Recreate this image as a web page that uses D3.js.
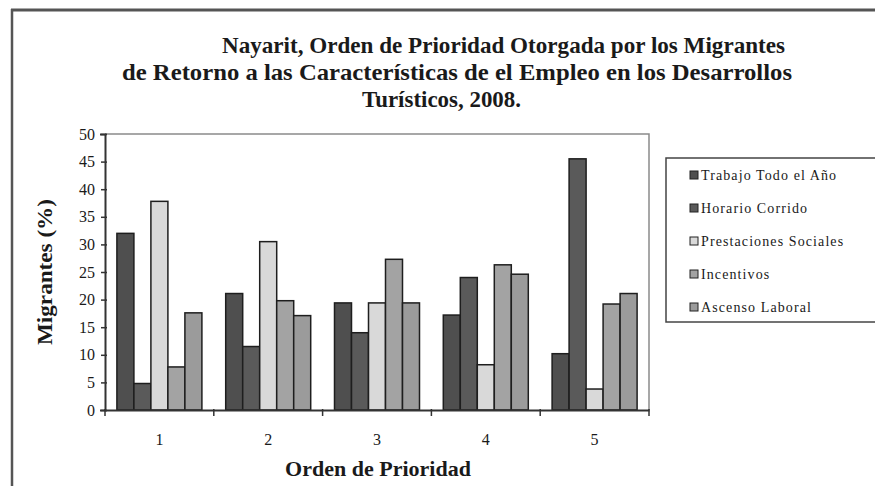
<!DOCTYPE html>
<html>
<head>
<meta charset="utf-8">
<script src="https://cdn.jsdelivr.net/npm/d3@7"></script>
<style>
  body { margin: 0; background: #fff; }
  text { font-family: "Liberation Serif", "Times New Roman", serif; fill: #1a1a1a; }
</style>
</head>
<body>
<script>
// data
var categories = ["1", "2", "3", "4", "5"];
var seriesNames = ["Trabajo Todo el Año", "Horario Corrido", "Prestaciones Sociales", "Incentivos", "Ascenso Laboral"];
var trabajo      = [32.0, 21.1, 19.4, 17.2, 10.2];
var horario      = [4.8, 11.5, 14.0, 24.0, 45.5];
var prestaciones = [37.8, 30.5, 19.4, 8.2, 3.8];
var incentivos   = [7.8, 19.8, 27.3, 26.3, 19.2];
var ascenso      = [17.6, 17.1, 19.4, 24.6, 21.1];
var yTicks = [0, 5, 10, 15, 20, 25, 30, 35, 40, 45, 50];
var titleLines = ["Nayarit, Orden de Prioridad Otorgada por los Migrantes",
                  "de Retorno a las Características de el Empleo en los Desarrollos",
                  "Turísticos, 2008."];

var allSeries = [trabajo, horario, prestaciones, incentivos, ascenso];
var colors = ["#4f4f4f", "#5a5a5a", "#d9d9d9", "#a3a3a3", "#9b9b9b"];

var width = 875, height = 486;
var svg = d3.select("body").append("svg")
    .attr("width", width)
    .attr("height", height);

// outer chart frame (cut off at the right and bottom)
svg.append("line").attr("x1", 11).attr("x2", width).attr("y1", 10).attr("y2", 10)
    .attr("stroke", "#555").attr("stroke-width", 3);
svg.append("line").attr("x1", 12).attr("x2", 12).attr("y1", 9).attr("y2", height)
    .attr("stroke", "#555").attr("stroke-width", 2.5);

// title, each line placed like the original (x, baseline, width)
var titlePos = [[222, 53, 563], [122, 80, 670], [362, 107, 159]];
titleLines.forEach(function(t, i) {
  svg.append("text")
    .attr("x", titlePos[i][0]).attr("y", titlePos[i][1])
    .attr("textLength", titlePos[i][2]).attr("lengthAdjust", "spacingAndGlyphs")
    .style("font-size", "24px").style("font-weight", "bold")
    .text(t);
});

var plot = {left: 105, right: 649, top: 134, bottom: 410};

var x = d3.scaleBand().domain(categories).range([plot.left, plot.right]);
var xInner = d3.scaleBand().domain(d3.range(seriesNames.length))
    .range([0, x.bandwidth()]).paddingOuter(0.7);
var y = d3.scaleLinear().domain([0, 50]).range([plot.bottom, plot.top]);

// plot area border top / right
svg.append("path")
    .attr("d", "M" + plot.left + "," + plot.top + "H" + plot.right + "V" + plot.bottom)
    .attr("fill", "none").attr("stroke", "#8a8a8a").attr("stroke-width", 1.5);

// bars
var groups = svg.selectAll("g.cat").data(categories).enter().append("g")
    .attr("class", "cat")
    .attr("transform", function(d) { return "translate(" + x(d) + ",0)"; });

groups.selectAll("rect")
    .data(function(d, ci) { return allSeries.map(function(s, si) { return {si: si, v: s[ci]}; }); })
    .enter().append("rect")
    .attr("x", function(d) { return xInner(d.si); })
    .attr("width", xInner.bandwidth())
    .attr("y", function(d) { return y(d.v); })
    .attr("height", function(d) { return y(0) - y(d.v); })
    .attr("fill", function(d) { return colors[d.si]; })
    .attr("stroke", "#1e1e1e").attr("stroke-width", 1.5);

// y axis
var yAxis = svg.append("g")
    .attr("transform", "translate(" + plot.left + ",0)")
    .call(d3.axisLeft(y).tickValues(yTicks).tickSize(5).tickPadding(5));
yAxis.select(".domain").attr("stroke", "#333").attr("stroke-width", 2);
yAxis.selectAll(".tick line").attr("stroke", "#333").attr("stroke-width", 1.5)
    .attr("x2", -4).attr("x1", 2);
yAxis.selectAll(".tick text").style("font-size", "16px").style("font-family", "Liberation Serif, serif")
    .attr("fill", "#333");

// x axis
var xAxis = svg.append("g")
    .attr("transform", "translate(0," + plot.bottom + ")")
    .call(d3.axisBottom(x).tickSize(0).tickPadding(24));
xAxis.select(".domain").attr("stroke", "#333").attr("stroke-width", 2);
xAxis.selectAll(".tick text").style("font-size", "16px").attr("fill", "#333");
// tick marks between categories
var edges = categories.map(function(c) { return x(c); }).concat([plot.right]);
svg.selectAll("line.xtick").data(edges).enter().append("line")
    .attr("x1", function(d) { return d; }).attr("x2", function(d) { return d; })
    .attr("y1", plot.bottom - 1).attr("y2", plot.bottom + 6)
    .attr("stroke", "#333").attr("stroke-width", 1.5);

// axis titles
svg.append("text")
    .attr("transform", "translate(52," + ((plot.top + plot.bottom) / 2) + ") rotate(-90)")
    .attr("text-anchor", "middle")
    .attr("textLength", 146).attr("lengthAdjust", "spacingAndGlyphs")
    .style("font-size", "21px").style("font-weight", "bold")
    .text("Migrantes (%)");
svg.append("text")
    .attr("x", 378).attr("y", 476)
    .attr("text-anchor", "middle")
    .attr("textLength", 186).attr("lengthAdjust", "spacingAndGlyphs")
    .style("font-size", "22px").style("font-weight", "bold")
    .text("Orden de Prioridad");

// legend
var legend = svg.append("g").attr("transform", "translate(666,158)");
legend.append("rect")
    .attr("x", 0).attr("y", 0).attr("width", 230).attr("height", 164)
    .attr("fill", "#fff").attr("stroke", "#444").attr("stroke-width", 1.5);
var items = legend.selectAll("g.item").data(seriesNames).enter().append("g")
    .attr("class", "item")
    .attr("transform", function(d, i) { return "translate(24," + (18 + i * 33) + ")"; });
items.append("rect")
    .attr("x", 0).attr("y", -5).attr("width", 8).attr("height", 8)
    .attr("fill", function(d, i) { return colors[i]; })
    .attr("stroke", "#222").attr("stroke-width", 1);
items.append("text")
    .attr("x", 11).attr("y", 4)
    .style("font-size", "14px").style("letter-spacing", "1.1px")
    .attr("fill", "#333")
    .text(function(d) { return d; });
</script>
</body>
</html>
